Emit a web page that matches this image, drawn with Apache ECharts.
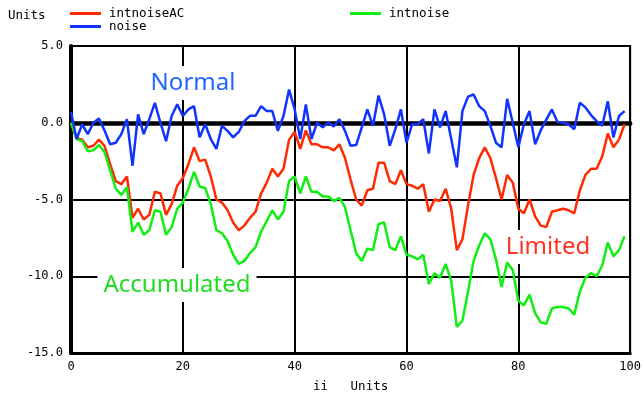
<!DOCTYPE html>
<html><head><meta charset="utf-8">
<script src="https://cdn.jsdelivr.net/npm/echarts@6/dist/echarts.min.js"></script>
<style>html,body{margin:0;padding:0;background:#fff}#c{width:644px;height:398px}</style>
</head><body><div id="c"></div>
<script>
// sample index (x values)
const ii = Array.from({length: 100}, (_, k) => k);

const noise = [0.7, -1.06, -0.1, -0.74, 0.0, 0.27, -0.5, -1.4, -1.3, -0.74,
 0.23, -2.8, 0.55, -0.74, 0.23, 1.3, 0.0, -1.2, 0.44, 1.2,
 0.44, 0.87, 1.08, -0.95, -0.1, -1.06, -1.7, -0.2, -0.53, -0.95,
 -0.6, 0.1, 0.45, 0.45, 1.08, 0.76, 0.76, -0.53, 0.44, 2.16,
 0.87, -1.06, 1.2, -1.06, 0.0, -0.3, 0.0, -0.25, 0.23, -0.53,
 -1.5, -1.45, -0.3, 0.87, -0.2, 1.77, 0.55, -1.5, -0.42, 0.87,
 -1.3, -0.1, -0.1, 0.23, -2.0, 0.87, -0.3, 0.76, -1.06, -2.9,
 0.76, 1.7, 1.84, 1.08, 0.76, -0.2, -1.3, -1.6, 1.56, 0.0,
 -1.6, -0.1, 0.76, -1.4, -0.5, 0.2, 0.87, 0.05, 0.0, -0.1,
 -0.42, 1.3, 1.0, 0.5, 0.1, -0.2, 1.4, -0.95, 0.44, 0.76];

const intnoise = [0, -1.06, -1.2, -1.85, -1.8, -1.45, -1.9, -3.1, -4.3, -4.7,
 -4.2, -7.1, -6.5, -7.3, -7.0, -5.7, -5.8, -7.3, -6.8, -5.6,
 -5.2, -4.3, -3.2, -4.15, -4.25, -5.3, -7.0, -7.2, -7.7, -8.6,
 -9.2, -9.0, -8.5, -8.1, -7.1, -6.4, -5.7, -6.3, -5.8, -3.8,
 -3.5, -4.6, -3.5, -4.5, -4.5, -4.8, -4.8, -5.1, -4.9, -5.5,
 -7.0, -8.5, -9.0, -8.2, -8.3, -6.6, -6.5, -8.1, -8.3, -7.4,
 -8.6, -8.7, -8.9, -8.6, -10.5, -9.8, -10.1, -9.2, -10.3, -13.3,
 -12.9, -11.0, -9.0, -8.0, -7.2, -7.6, -8.9, -10.7, -9.1, -9.6,
 -11.6, -11.9, -11.2, -12.4, -13.0, -13.1, -12.1, -12.0, -12.0, -12.1,
 -12.5, -11.0, -10.1, -9.8, -10.0, -9.3, -7.8, -8.7, -8.3, -7.4];

const intnoiseAC = [0, -1.0, -1.1, -1.6, -1.5, -1.1, -1.5, -2.7, -3.8, -4.0,
 -3.5, -6.2, -5.6, -6.3, -6.0, -4.5, -4.6, -6.0, -5.3, -4.1,
 -3.6, -2.7, -1.6, -2.5, -2.4, -3.5, -5.0, -5.2, -5.7, -6.5,
 -7.0, -6.7, -6.2, -5.8, -4.6, -3.9, -3.0, -3.5, -3.0, -1.1,
 -0.6, -1.7, -0.5, -1.4, -1.4, -1.6, -1.6, -1.8, -1.4, -2.3,
 -3.7, -5.0, -5.4, -4.4, -4.3, -2.6, -2.6, -3.8, -4.0, -3.1,
 -4.0, -4.1, -4.3, -4.0, -5.8, -5.0, -5.1, -4.3, -5.6, -8.3,
 -7.6, -5.4, -3.4, -2.3, -1.6, -2.3, -3.6, -5.0, -3.4, -3.9,
 -5.6, -5.9, -5.0, -6.1, -6.7, -6.8, -5.8, -5.7, -5.6, -5.7,
 -5.9, -4.4, -3.4, -3.0, -3.0, -2.2, -0.7, -1.6, -1.1, -0.1];

const seriesNames = ['intnoiseAC', 'intnoise', 'noise'];
const annotations = ['Normal', 'Accumulated', 'Limited'];

const mono = 'DejaVu Sans Mono';
const sans = 'Noto Sans';
const RED = '#ff2a00', GREEN = '#11ee11', BLUE = '#1133ff';

const pairs = arr => arr.map((v, k) => [ii[k], v]);
const chart = echarts.init(document.getElementById('c'), null, {renderer: 'canvas'});

const legendBase = {
  icon: 'rect', itemWidth: 31, itemHeight: 3, padding: 0, itemGap: 0,
  textStyle: {fontFamily: mono, fontSize: 12.5, color: '#000', padding: [0, 0, 0, 3]}
};

chart.setOption({
  animation: false,
  backgroundColor: '#fff',
  grid: {left: 71, right: 13, top: 46, bottom: 42, show: true, borderColor: '#000', borderWidth: 2, backgroundColor: 'transparent'},
  legend: [
    Object.assign({data: [seriesNames[0]], left: 70, top: 7}, legendBase),
    Object.assign({data: [seriesNames[1]], left: 350, top: 7}, legendBase),
    Object.assign({data: [seriesNames[2]], left: 70, top: 20}, legendBase)
  ],
  xAxis: [
    {type: 'value', min: 0, max: 100, interval: 20, position: 'bottom',
     axisLine: {onZero: false, lineStyle: {color: '#000', width: 3}},
     axisTick: {show: false},
     axisLabel: {color: '#000', fontFamily: mono, fontSize: 12, margin: 8},
     splitLine: {show: true, lineStyle: {color: '#000', width: 2}},
     name: 'ii   Units', nameLocation: 'middle', nameGap: 27,
     nameTextStyle: {color: '#000', fontFamily: mono, fontSize: 12.5}},
    {type: 'value', min: 0, max: 100, position: 'top',
     axisLine: {onZero: true, lineStyle: {color: '#000', width: 4.5}},
     axisTick: {show: false}, axisLabel: {show: false}, splitLine: {show: false}}
  ],
  yAxis: {type: 'value', min: -15, max: 5, interval: 5,
    axisLine: {show: true, lineStyle: {color: '#000', width: 4}},
    axisTick: {show: false},
    axisLabel: {color: '#000', fontFamily: mono, fontSize: 12, margin: 8, formatter: v => v.toFixed(1)},
    splitLine: {show: true, lineStyle: {color: '#000', width: 2}}},
  graphic: [
    {type: 'text', left: 8, top: 9, style: {text: 'Units', fill: '#000', font: '12.5px "' + mono + '"'}},
    {type: 'text', x: 193, y: 83, z: 1, style: {text: annotations[0], fill: '#2266ff', font: '24px "' + sans + '"', align: 'center', verticalAlign: 'middle', backgroundColor: '#fff', padding: [5, 6]}},
    {type: 'text', x: 177, y: 285, z: 1, style: {text: annotations[1], fill: '#22dd22', font: '24px "' + sans + '"', align: 'center', verticalAlign: 'middle', backgroundColor: '#fff', padding: [5, 6]}},
    {type: 'text', x: 548, y: 247, z: 1, style: {text: annotations[2], fill: '#ff3322', font: '24px "' + sans + '"', align: 'center', verticalAlign: 'middle', backgroundColor: '#fff', padding: [5, 6]}}
  ],
  series: [
    {name: seriesNames[0], type: 'line', data: pairs(intnoiseAC), symbol: 'none', color: RED, lineStyle: {color: RED, width: 2.5}, z: 3},
    {name: seriesNames[1], type: 'line', data: pairs(intnoise), symbol: 'none', color: GREEN, lineStyle: {color: GREEN, width: 2.5}, z: 3},
    {name: seriesNames[2], type: 'line', data: pairs(noise), symbol: 'none', color: BLUE, lineStyle: {color: BLUE, width: 2.5}, z: 3}
  ]
});
</script></body></html>
